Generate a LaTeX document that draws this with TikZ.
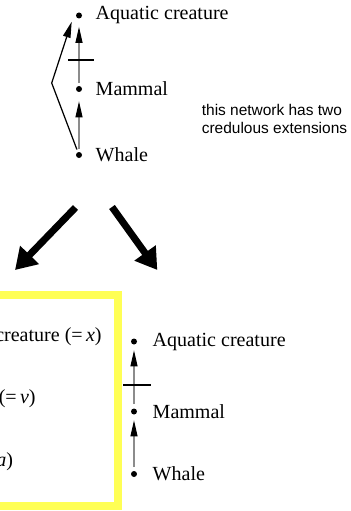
\documentclass[tikz,border=0pt]{standalone}
\usepackage{fontspec}
\setmainfont{Liberation Serif}
\setsansfont{Liberation Sans}
\usetikzlibrary{positioning,arrows.meta}
\definecolor{boxyellow}{RGB}{255,255,85}

\tikzset{
  dot/.style={circle,fill=black,inner sep=0pt,minimum size=0.12cm},
  lbl/.style={inner sep=0pt,font=\fontsize{11.4}{13}\selectfont},
  isa/.style={black!45,line width=0.6pt,-{Triangle[length=0.32cm,width=0.14cm,color=black]}},
  bar/.style={black,line width=1.2pt},
  bigarrow/.style={black,line width=0.14cm,-{Triangle[length=0.42cm,width=0.5cm]}}
}

\begin{document}
\begin{tikzpicture}
  \useasboundingbox (0,0) rectangle (7,-10.22);
  \clip (0,0) rectangle (7,-10.22);
  % Top network
  \node[dot] (aq1) at (1.58,-0.31) {};
  \node[dot] (ma1) at (1.58,-1.78) {};
  \node[dot] (wh1) at (1.58,-3.10) {};
  \node[lbl, right=0.26cm of aq1] (aq1t) {Aquatic creature};
  \node[lbl, right=0.26cm of ma1] (ma1t) {Mammal};
  \node[lbl, right=0.26cm of wh1] (wh1t) {Whale};
  \draw[isa, shorten <=0.05cm, shorten >=0.18cm] (wh1) -- (ma1);
  \draw[isa, shorten <=0.05cm, shorten >=0.16cm] (ma1) -- (aq1);
  \draw[bar] (1.366,-1.20) -- (1.886,-1.20); % negative link
  \coordinate (knee1) at (1.034,-1.66);
  \draw[black, line width=0.7pt, shorten <=0.05cm,
        -{Triangle[length=0.32cm,width=0.15cm]}]
    (wh1) -- (knee1) -- ([xshift=-0.146cm,yshift=-0.124cm]aq1.center);
  \node[inner sep=0pt, anchor=west, align=left,
        font=\sffamily\fontsize{8.8}{10.5}\selectfont] (note) at (4.03,-2.38)
    {this network has two\\credulous extensions};
  % Arrows to the two extensions
  \coordinate (fromL) at (1.51,-4.15);
  \coordinate (toL) at (0.30,-5.40);
  \coordinate (fromR) at (2.24,-4.14);
  \coordinate (toR) at (3.146,-5.40);
  \draw[bigarrow] (fromL) -- (toL);
  \draw[bigarrow] (fromR) -- (toR);
  % Left extension (highlighted)
  \draw[boxyellow, line width=0.16cm] (-3,-5.90) rectangle (2.366,-10.12);
  \node[lbl, anchor=east] (aq0t) at (2.04,-6.74) {Aquatic creature (=\,\textit{x})};
  \node[lbl, anchor=east] (ma0t) at (0.72,-7.98) {Mammal (=\,\textit{v})};
  \node[lbl, anchor=east] (wh0t) at (0.27,-9.23) {Whale (=\,\textit{a})};
  % Right extension
  \node[dot] (aq2) at (2.68,-6.83) {};
  \node[dot] (ma2) at (2.68,-8.23) {};
  \node[dot] (wh2) at (2.68,-9.48) {};
  \node[lbl, right=0.3cm of aq2] (aq2t) {Aquatic creature};
  \node[lbl, right=0.3cm of ma2] (ma2t) {Mammal};
  \node[lbl, right=0.3cm of wh2] (wh2t) {Whale};
  \draw[isa, shorten <=0.07cm, shorten >=0.11cm] (wh2) -- (ma2);
  \draw[isa, shorten <=0.08cm, shorten >=0.11cm] (ma2) -- (aq2);
  \draw[bar] (2.466,-7.70) -- (3.014,-7.70); % negative link
\end{tikzpicture}
\end{document}
